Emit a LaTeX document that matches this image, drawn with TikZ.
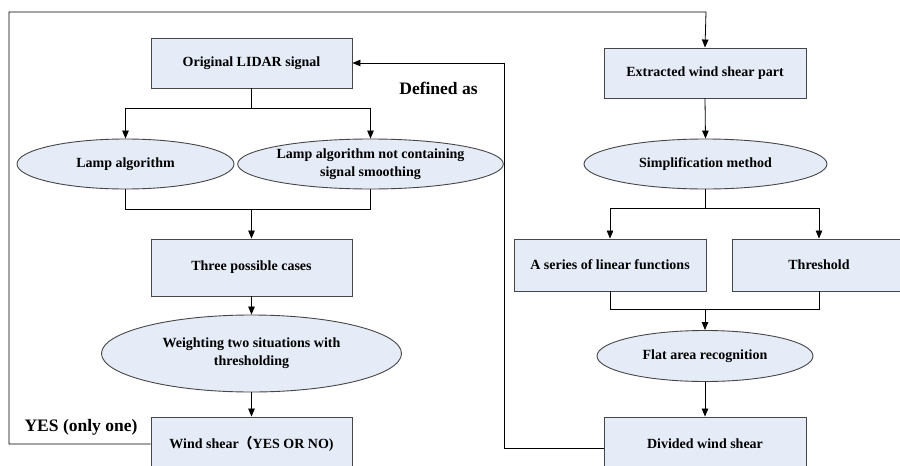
\documentclass[tikz,border=0pt]{standalone}
\usepackage{fontspec}
\setmainfont{Liberation Serif}
\newfontfamily\cjk{Noto Sans CJK SC}
\usetikzlibrary{shapes.geometric,arrows.meta}
\definecolor{boxfill}{RGB}{230,236,247}
\definecolor{boxline}{RGB}{70,70,70}
\tikzset{
  x=1pt,y=1pt,
  base/.style={draw=boxline,line width=0.9pt,fill=boxfill,font=\bfseries\fontsize{14}{18}\selectfont,align=center,inner sep=0pt},
  rbox/.style={base,rectangle},
  ebox/.style={base,ellipse},
  conn/.style={draw=black,line width=0.8pt},
  arr/.style={conn,-{Triangle[length=8pt,width=6.5pt]}},
  biglabel/.style={font=\bfseries\fontsize{17.5}{20}\selectfont,inner sep=0pt}
}
\begin{document}
\begin{tikzpicture}
\useasboundingbox (0,0) rectangle (900,-466);
\clip (0,0) rectangle (900,-466);
\fill[white] (0,0) rectangle (900,-466);
% left column
\node[rbox,minimum width=201pt,minimum height=50pt] (lidar) at (251.5,-63) {Original LIDAR signal};
\node[ebox,minimum width=217pt,minimum height=50pt] (lamp) at (125.5,-164) {Lamp algorithm};
\node[ebox,minimum width=237pt,minimum height=50pt] (lampns) at (370.5,-164) {Lamp algorithm not containing\\signal smoothing};
\node[rbox,minimum width=201pt,minimum height=57pt] (three) at (251.5,-267.5) {Three possible cases};
\node[ebox,minimum width=300pt,minimum height=77pt] (weight) at (251.5,-353.5) {Weighting two situations with\\thresholding};
\node[rbox,minimum width=201pt,minimum height=54pt] (wind) at (251.5,-444) {Wind shear{\cjk （}YES OR NO)};
% right column
\node[rbox,minimum width=202pt,minimum height=50pt] (extr) at (705,-73) {Extracted wind shear part};
\node[ebox,minimum width=243pt,minimum height=50pt] (simp) at (705.5,-164) {Simplification method};
\node[rbox,minimum width=192pt,minimum height=52pt] (series) at (610,-265) {A series of linear functions};
\node[rbox,minimum width=174pt,minimum height=52pt] (thresh) at (819,-265) {Threshold};
\node[ebox,minimum width=216pt,minimum height=51pt] (flat) at (705,-356) {Flat area recognition};
\node[rbox,minimum width=202pt,minimum height=54pt] (divided) at (705,-444) {Divided wind shear};
% labels
\node[biglabel] (defas) at (438.5,-88) {Defined as};
\node[biglabel] (yes) at (81,-427) {YES (only one)};
% helper coordinates
\coordinate (s1) at (251.5,-108);
\coordinate (s1l) at (125.5,-108);
\coordinate (s1r) at (370.5,-108);
\coordinate (m1) at (251.5,-209);
\coordinate (m1l) at (125.5,-209);
\coordinate (m1r) at (370.5,-209);
\coordinate (loopbl) at (9,-444);
\coordinate (looptl) at (9,-12);
\coordinate (looptr) at (706,-12);
\coordinate (s2) at (705.5,-208);
\coordinate (s2l) at (610,-208);
\coordinate (s2r) at (819,-208);
\coordinate (m2) at (705,-309);
\coordinate (m2l) at (610,-309);
\coordinate (m2r) at (819,-309);
\coordinate (dvl) at (504,-448);
\coordinate (dvt) at (504,-63);
\coordinate (dvw) at ([yshift=-4pt]divided.west);
% connectors left
\draw[conn] (lidar.south) -- (s1);
\draw[conn] (s1l) -- (s1r);
\draw[arr] (s1l) -- (lamp.north);
\draw[arr] (s1r) -- (lampns.north);
\draw[conn] (lamp.south) -- (m1l) -- (m1r) -- (lampns.south);
\draw[arr] (m1) -- (three.north);
\draw[arr] (three.south) -- (weight.north);
\draw[arr] (weight.south) -- (wind.north);
\draw[arr] (wind.west) -- (loopbl) -- (looptl) -- (looptr) -- (extr.north);
% connectors right
\draw[arr] (extr.south) -- (simp.north);
\draw[conn] (simp.south) -- (s2);
\draw[conn] (s2l) -- (s2r);
\draw[arr] (s2l) -- (series.north);
\draw[arr] (s2r) -- (thresh.north);
\draw[conn] (series.south) -- (m2l) -- (m2r) -- (thresh.south);
\draw[arr] (m2) -- (flat.north);
\draw[arr] (flat.south) -- (divided.north);
\draw[arr] (dvw) -- (dvl) -- (dvt) -- (lidar.east);
\end{tikzpicture}
\end{document}
